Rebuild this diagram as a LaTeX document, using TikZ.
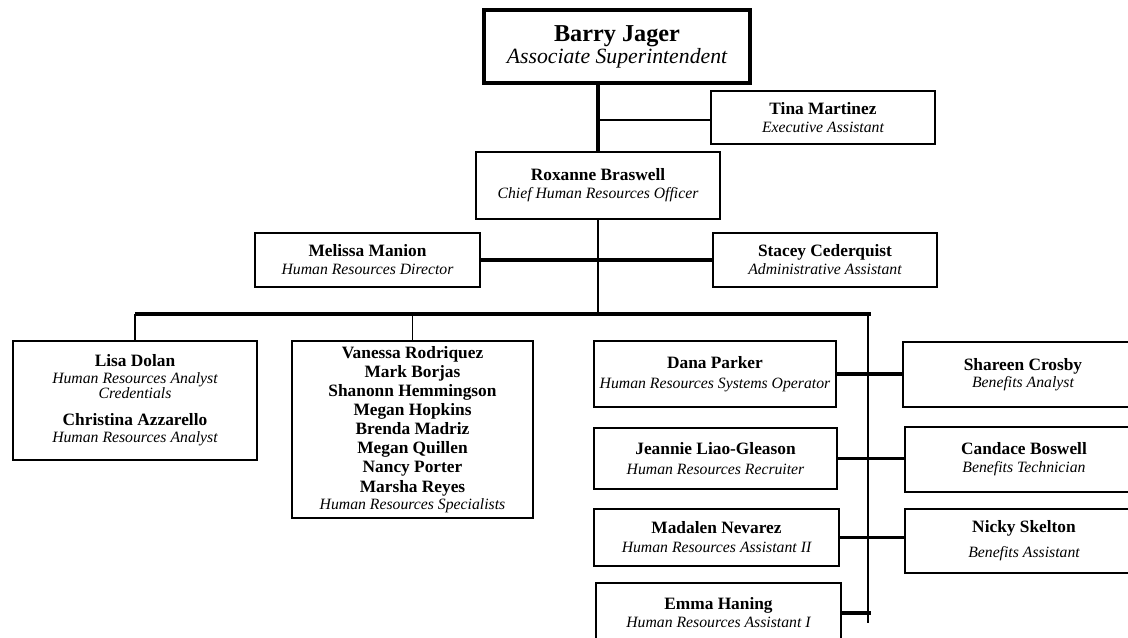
\documentclass[tikz,border=0pt]{standalone}
\usepackage{fontspec}
\setmainfont{Liberation Serif}
\usetikzlibrary{calc}
\tikzset{
  box/.style={draw=black, line width=1.3pt, fill=white, inner sep=0pt, align=center,
    font=\fontsize{13}{13.5}\selectfont},
  topbox/.style={box, line width=3pt},
  thinln/.style={line width=1.3pt},
  thickln/.style={line width=2.4pt},
}
\newcommand{\pname}[1]{{\bfseries #1}}
\newcommand{\ptitle}[1]{{\fontsize{11.8}{13.5}\selectfont\itshape #1}}
\begin{document}
\begin{tikzpicture}[x=0.75pt,y=-0.75pt]
\useasboundingbox (0,0) rectangle (1128,638);
\clip (0,0) rectangle (1128,638);
\fill[white] (0,0) rectangle (1128,638);

\node[topbox, minimum width=199.5pt, minimum height=54.75pt,
  font=\fontsize{18.2}{15}\selectfont] (barry) at (617,46.5)
  {\pname{Barry Jager}\\{\fontsize{16.3}{15}\selectfont\itshape Associate Superintendent}};
\node[box, minimum width=168pt, minimum height=39.75pt] (tina) at (823,117.5)
  {\pname{Tina Martinez}\\\ptitle{Executive Assistant}};
\node[box, minimum width=183pt, minimum height=50.25pt] (rox) at (598,185.5)
  {\pname{Roxanne Braswell}\\\ptitle{Chief Human Resources Officer}};
\node[box, minimum width=168.75pt, minimum height=40.5pt] (mel) at (367.5,260)
  {\pname{Melissa Manion}\\\ptitle{Human Resources Director}};
\node[box, minimum width=168pt, minimum height=40.5pt] (sta) at (825,260)
  {\pname{Stacey Cederquist}\\\ptitle{Administrative Assistant}};
\node[box, minimum width=183pt, minimum height=89.25pt] (lisa) at (135,400.5)
  {\pname{Lisa Dolan}\\[-1pt]\ptitle{Human Resources Analyst}\\[-2.5pt]\ptitle{Credentials}\\[7pt]\pname{Christina Azzarello}\\[-0.75pt]\ptitle{Human Resources Analyst}};
\node[box, minimum width=180.75pt, minimum height=132.75pt,
  font=\fontsize{13}{14.3}\selectfont] (van) at (412.5,429.5)
  {\pname{Vanessa Rodriquez}\\\pname{Mark Borjas}\\\pname{Shanonn Hemmingson}\\\pname{Megan Hopkins}\\\pname{Brenda Madriz}\\\pname{Megan Quillen}\\\pname{Nancy Porter}\\\pname{Marsha Reyes}\\[-1.5pt]\ptitle{Human Resources Specialists}};
\node[box, minimum width=181.5pt, minimum height=49.5pt] (dana) at (715,374)
  {\pname{Dana Parker}\\[1.5pt]\ptitle{Human Resources Systems Operator}};
\node[box, minimum width=182.25pt, minimum height=45.75pt] (jea) at (715.5,458.5)
  {\pname{Jeannie Liao-Gleason}\\[1.5pt]\ptitle{Human Resources Recruiter}};
\node[box, minimum width=183.75pt, minimum height=42.75pt] (mad) at (716.5,537.5)
  {\pname{Madalen Nevarez}\\[0.75pt]\ptitle{Human Resources Assistant II}};
\node[box, minimum width=183.75pt, minimum height=45pt] (emma) at (718.5,613)
  {\pname{Emma Haning}\\\ptitle{Human Resources Assistant I}};
\node[box, minimum width=180pt, minimum height=48.75pt] (sha) at (1023,374.5)
  {\pname{Shareen Crosby}\\[-1pt]\ptitle{Benefits Analyst}};
\node[box, minimum width=178.5pt, minimum height=48.75pt] (can) at (1024,459.5)
  {\pname{Candace Boswell}\\\ptitle{Benefits Technician}};
\node[box, minimum width=178.5pt, minimum height=48pt] (nic) at (1024,541)
  {\pname{Nicky Skelton}\\[5.25pt]\ptitle{Benefits Assistant}};

\coordinate (busL) at (135,314);
\coordinate (busR) at (871,314);
\coordinate (vbot) at (868,623);
\coordinate (tinaj) at (598,120);

% connectors
\draw[thickln] (barry.south -| rox.north) -- (rox.north);
\draw[thinln] (tinaj) -- (tinaj -| tina.west);
\draw[thinln] (rox.south) -- (rox.south |- busL);
\draw[thickln] (mel.east) -- (sta.west);
\draw[thickln] (busL) -- (busR);
\draw[thinln] (busL) -- (lisa.north);
\draw[thinln] (van.north |- busL) -- (van.north);
\draw[thinln] (vbot |- busL) -- (vbot);
\draw[thickln] (dana.east) -- (dana.east -| sha.west);
\draw[thickln] (jea.east) -- (jea.east -| can.west);
\draw[thickln] (mad.east) -- (mad.east -| nic.west);
\draw[thickln] (emma.east) -- (emma.east -| busR);
\end{tikzpicture}
\end{document}
